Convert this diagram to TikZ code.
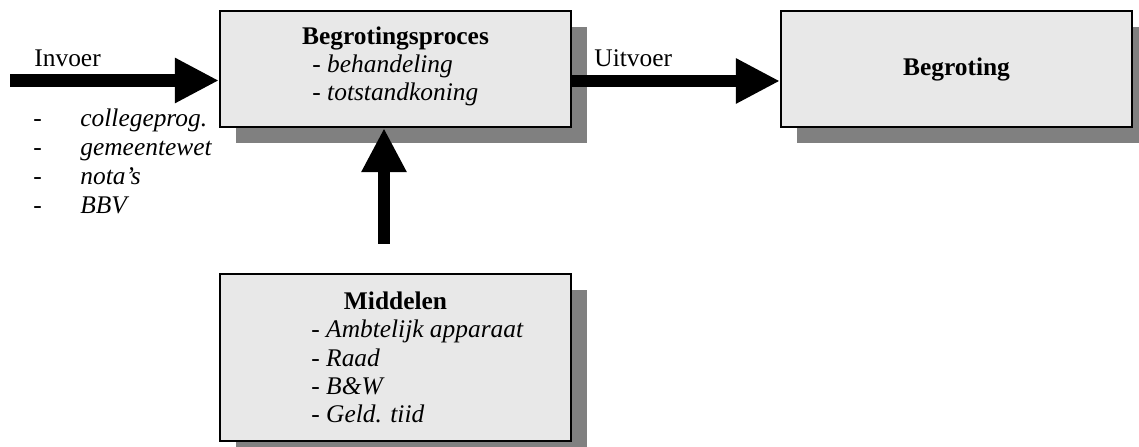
\documentclass[tikz,border=0pt]{standalone}
\usepackage{fontspec}
\setmainfont{Liberation Serif}
\usepackage{tikz}
\usetikzlibrary{arrows.meta}
\usetikzlibrary{shadows}
\usetikzlibrary{calc}
\usepackage{xcolor}
\definecolor{myBoxGray}{rgb}{0.91,0.91,0.91}
\definecolor{myShadow}{rgb}{0.5,0.5,0.5}
\tikzset{
  procbox/.style={
    draw=black, line width=1pt, fill=myBoxGray,
    minimum width=5.827cm,
    drop shadow={shadow xshift=0.266cm, shadow yshift=-0.26cm, fill=myShadow, opacity=1}
  },
  lbl/.style={inner sep=0pt, font=\fontsize{12}{13.8}\selectfont},
  titlelbl/.style={lbl, font=\fontsize{12}{13.8}\selectfont\bfseries},
  fatarrow/.style={
    line width=0.2075cm,
    -{Triangle[width=0.70cm, length=0.73cm]}
  },
}

\begin{document}
\begin{tikzpicture}[x=0.0166cm, y=-0.0166cm]
\useasboundingbox (0,0) rectangle (1139,447);

%%%%%%%%%%%%%%%%%%%%%%%%%%%%%%%%%%%%%%%%%%%%%%%%%%%%%%%%%%%%%% Boxes
\coordinate (C) at (0, 0);
\node[procbox, minimum height=1.926cm] (proc) at ($(C)+(395.5,69)$) {};
\node[procbox, minimum height=1.926cm, font=\fontsize{12}{13.8}\selectfont\bfseries] (begr) at ($(C)+(956.5,69)$) {Begroting};
\node[procbox, minimum height=2.772cm] (mid) at ($(C)+(395.5,357.5)$) {};

% begrotingsproces
\node[titlelbl, anchor=base] (procT) at ($(C)+(395.5,45)$) {Begrotingsproces};
\node[lbl, anchor=base west] (procA) at ($(C)+(312,73)$) {- \textit{behandeling}};
\node[lbl, anchor=base west] (procB) at ($(C)+(312,101)$) {- \textit{totstandkoning}};

% middelen
\node[titlelbl, anchor=base] (midT) at ($(C)+(395.5,309.5)$) {Middelen};
\foreach \txt [count=\i] in {Ambtelijk apparaat, Raad, B\&W, Geld. tiid}
  \node[lbl, anchor=base west] (mid\i) at ($(C)+(311,309.5+28.3*\i)$) {- \textit{\txt}};

%%%%%%%%%%%%%%%%%%%%%%%%%%%%%%%%%%%%%%%%%%%%%%%%%%%%%%%%%%%%%% Arrows
\coordinate (inS) at ($(C)+(10,80.5)$);
\coordinate (outY) at ($(C)+(0,81)$);
\coordinate (upS) at ($(C)+(384,244)$);

\draw[fatarrow] (inS) -- (inS -| proc.west);
\draw[fatarrow] (proc.east |- outY) -- (begr.west |- outY);
\draw[fatarrow] (upS) -- (upS |- proc.south);

\node[lbl, anchor=base west] (invoer) at ($(C)+(34,67)$) {Invoer};
\node[lbl, anchor=base west] (uitvoer) at ($(C)+(594,67)$) {Uitvoer};

% invoer list
\foreach \txt [count=\i] in {collegeprog., gemeentewet, nota’s, BBV}{
  \node[lbl, anchor=base west] (inD\i) at ($(C)+(33,98+29*\i)$) {-};
  \node[lbl, anchor=base west] (inL\i) at ($(C)+(80,98+29*\i)$) {\textit{\txt}};
}

\end{tikzpicture}
\end{document}
